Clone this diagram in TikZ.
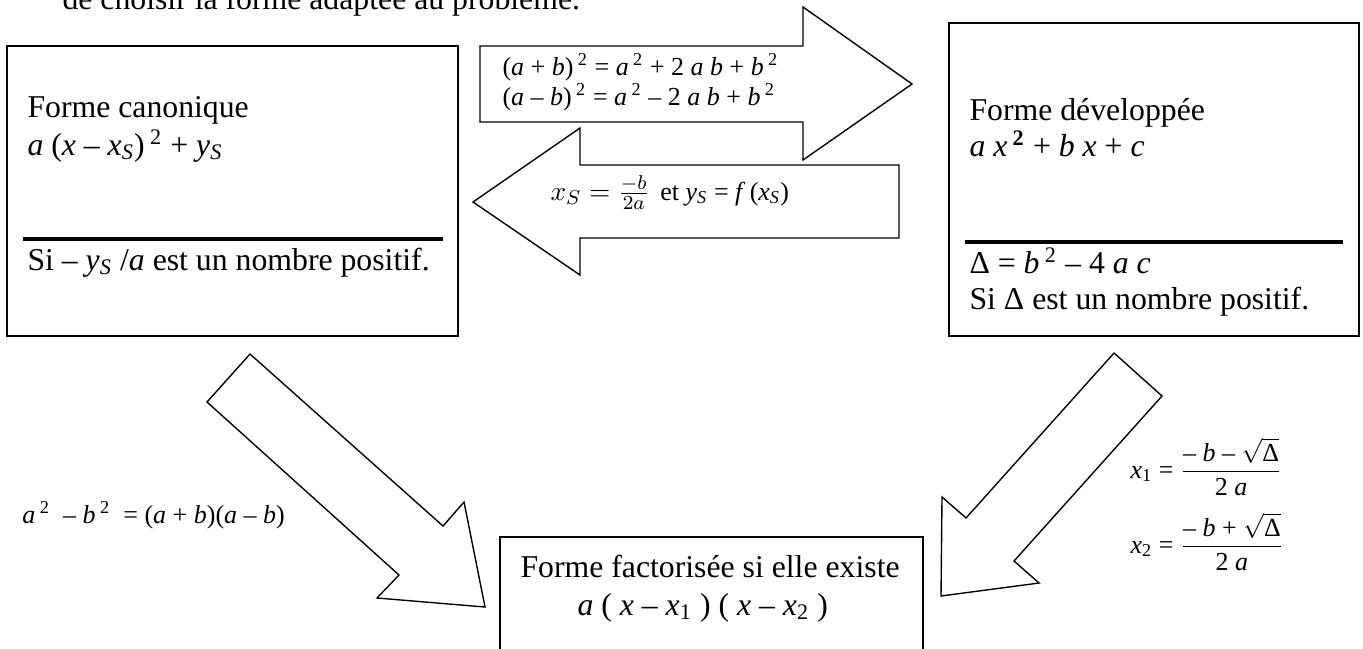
\documentclass[tikz,border=0pt]{standalone}
\usepackage{amsmath}
\usepackage{fontspec}
\setmainfont{Liberation Serif}
\usetikzlibrary{fit}
\newcommand{\mv}[1]{\textit{#1}}
\newcommand{\ind}[1]{\textsubscript{\textit{#1}}}

\begin{document}
\begin{tikzpicture}[
  x=0.4pt, y=-0.4pt,
  forme/.style={draw, line width=0.55pt, inner sep=0pt},
  trait/.style={line width=1.4pt},
  fleche/.style={draw, line width=0.55pt, line join=miter},
  ligne/.style={anchor=base west, inner sep=0pt, font=\fontsize{12.7}{15}\selectfont},
  petit/.style={anchor=base west, inner sep=0pt, font=\fontsize{10.4}{12}\selectfont}
]
\useasboundingbox (0,0) rectangle (1363,648);

% phrase coupee en haut
\node[ligne] (intro) at (62,9) {de choisir la forme adaptée au problème.};

% les trois formes
\node[forme, fit={(7,46) (458,336)}] (canonique) {};
\node[forme, fit={(949,23) (1359,336)}] (developpee) {};
\node[forme, fit={(500,537) (923,670)}] (factorisee) {};

\node[ligne] (canon1) at (27,117) {Forme canonique};
\node[ligne] (canon2) at (27,155) {\mv{a} (\mv{x} – \mv{x}\ind{S})\,\textsuperscript{2} + \mv{y}\ind{S}};
\draw[trait] (23,239) -- (443,239);
\node[ligne] (canon3) at (27,270) {Si – \mv{y}\ind{S} /\mv{a} est un nombre positif.};

\node[ligne] (dev1) at (969,120) {Forme développée};
\node[ligne] (dev2) at (969,156) {\mv{a} \mv{x}\,\textsuperscript{\textbf{2}} + \mv{b} \mv{x} + \mv{c}};
\draw[trait] (965,242) -- (1343,242);
\node[ligne] (dev3) at (969,273) {Δ = \mv{b}\,\textsuperscript{2} – 4 \mv{a} \mv{c}};
\node[ligne] (dev4) at (969,309) {Si Δ est un nombre positif.};

\node[ligne] (fact1) at (520,577) {Forme factorisée si elle existe};
\node[ligne] (fact2) at (577,615) {\mv{a} ( \mv{x} – \mv{x}\textsubscript{1} ) ( \mv{x} – \mv{x}\textsubscript{2} )};

% fleches
\draw[fleche] (480,46) -- (803,46) -- (803,7) -- (912,84) -- (803,160) -- (803,122) -- (480,122) -- cycle;
\draw[fleche] (899,165) -- (580,165) -- (580,128) -- (473,202) -- (580,275) -- (580,238) -- (899,238) -- cycle;
\draw[fleche] (250,354) -- (443,526) -- (464,502) -- (485,607) -- (377,598) -- (399,575) -- (207,402) -- cycle;
\draw[fleche] (1114,353) -- (1162,396) -- (1014,561) -- (1039,583) -- (941,596) -- (942,497) -- (966,518) -- cycle;

% formules de passage
\node[petit] (ident1) at (502,75) {(\mv{a} + \mv{b})\,\textsuperscript{2} = \mv{a}\,\textsuperscript{2} + 2 \mv{a} \mv{b} + \mv{b}\,\textsuperscript{2}};
\node[petit] (ident2) at (502,105) {(\mv{a} – \mv{b})\,\textsuperscript{2} = \mv{a}\,\textsuperscript{2} – 2 \mv{a} \mv{b} + \mv{b}\,\textsuperscript{2}};
\node[petit] (sommet) at (550,200) {{\fontsize{11}{13}\selectfont$x_S = \frac{-b}{2a}$}\ \,et \mv{y}\ind{S} = \mv{f}\,(\mv{x}\ind{S})};
\node[petit] (diff) at (22,523) {\mv{a}\,\textsuperscript{2}\ \ – \mv{b}\,\textsuperscript{2}\ \ = (\mv{a} + \mv{b})(\mv{a} – \mv{b})};
\node[petit] (racine1) at (1130,478) {\mv{x}\textsubscript{1} = $\displaystyle\frac{\mbox{– \mv{b} – }\sqrt{\mbox{Δ}}}{\mbox{2 \mv{a}}}$};
\node[petit] (racine2) at (1130,553) {\mv{x}\textsubscript{2} = $\displaystyle\frac{\mbox{– \mv{b} + }\sqrt{\mbox{Δ}}}{\mbox{2 \mv{a}}}$};
\end{tikzpicture}
\end{document}
